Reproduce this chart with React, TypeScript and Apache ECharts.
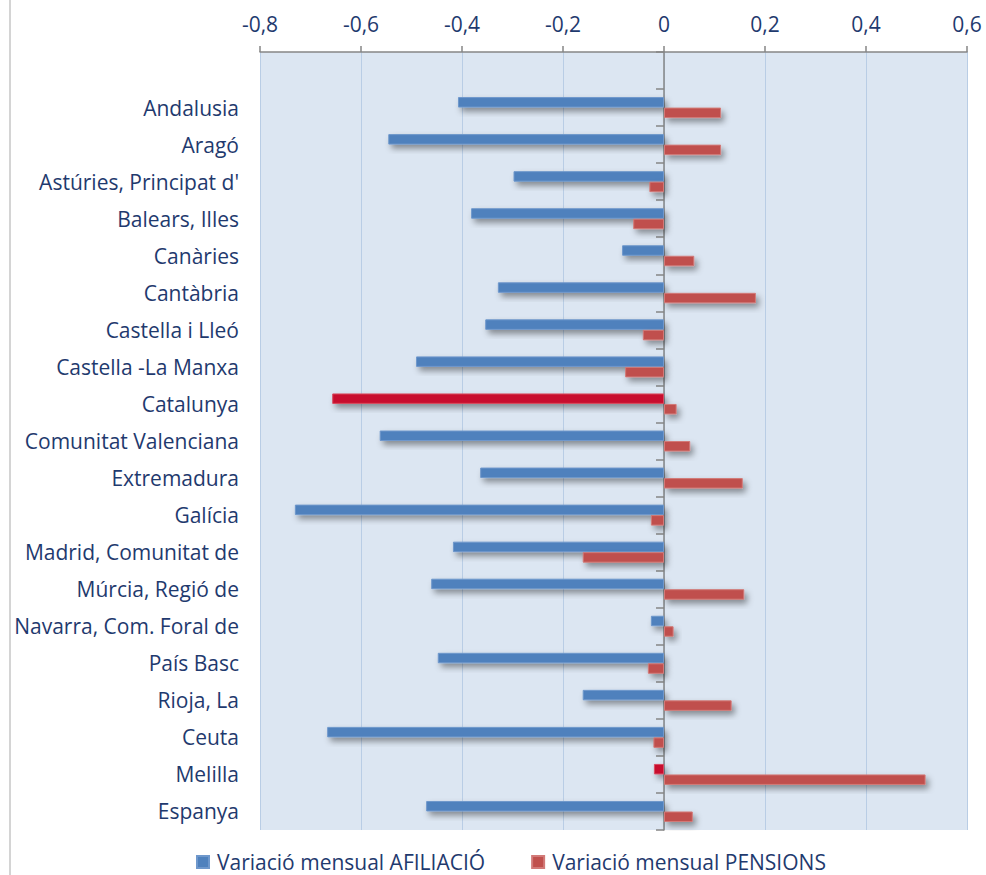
import React, { useEffect, useRef } from "react";
import * as echarts from "echarts";

const categories = [
  "Andalusia",
  "Aragó",
  "Astúries, Principat d'",
  "Balears, Illes",
  "Canàries",
  "Cantàbria",
  "Castella i Lleó",
  "Castella -La Manxa",
  "Catalunya",
  "Comunitat Valenciana",
  "Extremadura",
  "Galícia",
  "Madrid, Comunitat de",
  "Múrcia, Regió de",
  "Navarra, Com. Foral de",
  "País Basc",
  "Rioja, La",
  "Ceuta",
  "Melilla",
  "Espanya",
];

const afiliacio = [
  -0.408, -0.546, -0.298, -0.382, -0.083, -0.329, -0.354, -0.491, -0.657, -0.563,
  -0.364, -0.731, -0.418, -0.461, -0.026, -0.448, -0.161, -0.667, -0.02, -0.471,
];

const pensions = [
  0.113, 0.113, -0.029, -0.061, 0.06, 0.182, -0.042, -0.077, 0.025, 0.052,
  0.156, -0.026, -0.161, 0.159, 0.019, -0.032, 0.134, -0.021, 0.518, 0.057,
];

const highlighted = ["Catalunya", "Melilla"];

const seriesNames = ["Variació mensual AFILIACIÓ", "Variació mensual PENSIONS"];

const BLUE = "#4f81bd";
const RED = "#c0504d";
const HILITE = "#c8102e";
const TEXT = "#1f3a6e";
const FONT = "Open Sans";

export default function App() {
  const ref = useRef<HTMLDivElement>(null);

  useEffect(() => {
    if (!ref.current) return;
    const chart = echarts.init(ref.current, undefined, { renderer: "svg" });

    const cats = [""].concat(categories);
    const shadow = {
      shadowBlur: 6,
      shadowColor: "rgba(0,0,0,0.4)",
      shadowOffsetX: 3,
      shadowOffsetY: 4,
    };

    const afData: any[] = [null].concat(
      afiliacio.map((v, i) =>
        highlighted.includes(categories[i])
          ? { value: v, itemStyle: { color: HILITE, borderColor: "#d84a60" } }
          : v
      ) as any
    );
    const peData: any[] = [null].concat(pensions as any);

    chart.setOption({
      animation: false,
      backgroundColor: "#ffffff",
      textStyle: { fontFamily: FONT },
      graphic: [
        {
          type: "rect",
          shape: { x: 9, y: 0, width: 2, height: 875 },
          style: { fill: "#d4d4d4" },
          silent: true,
        },
      ],
      grid: {
        left: 260,
        right: 19,
        top: 52,
        bottom: 45,
        show: true,
        backgroundColor: "#dce6f2",
        borderWidth: 0,
      },
      legend: {
        left: 196,
        top: 851,
        padding: 0,
        itemWidth: 12,
        itemHeight: 12,
        itemGap: 46,
        icon: "rect",
        data: seriesNames,
        textStyle: {
          fontFamily: FONT,
          fontSize: 21,
          color: TEXT,
          lineHeight: 22,
          padding: [0, 0, 0, 3],
        },
      },
      xAxis: {
        type: "value",
        position: "top",
        min: -0.8,
        max: 0.6,
        interval: 0.2,
        axisLine: { show: true, onZero: false, lineStyle: { color: "#868686", width: 1.5 } },
        axisTick: { show: true, length: 6, lineStyle: { color: "#868686", width: 1.5 } },
        splitLine: { show: true, lineStyle: { color: "#b9cde5", width: 1 } },
        axisLabel: {
          margin: 18,
          fontSize: 21,
          fontFamily: FONT,
          color: TEXT,
          formatter: (v: number) => {
            const r = Math.round(v * 10) / 10;
            return r === 0 ? "0" : String(r).replace(".", ",");
          },
        },
      },
      yAxis: [
        {
          type: "category",
          data: cats,
          inverse: true,
          position: "left",
          axisLine: { show: true, onZero: true, lineStyle: { color: "#868686", width: 1.5 } },
          axisTick: { show: true, length: 8, lineStyle: { color: "#868686", width: 1.5 } },
          axisLabel: { show: false },
          splitLine: { show: false },
        },
        {
          type: "category",
          data: cats,
          inverse: true,
          position: "left",
          axisLine: { show: false, onZero: false },
          axisTick: { show: false },
          splitLine: { show: false },
          axisLabel: {
            margin: 21,
            fontSize: 21,
            fontFamily: FONT,
            color: TEXT,
          },
        },
      ],
      series: [
        {
          name: seriesNames[0],
          type: "bar",
          yAxisIndex: 0,
          data: afData,
          barWidth: 10.5,
          barGap: "0%",
          itemStyle: { color: BLUE, borderColor: "#6f98cc", borderWidth: 1, ...shadow },
        },
        {
          name: seriesNames[1],
          type: "bar",
          yAxisIndex: 0,
          data: peData,
          barWidth: 10.5,
          barGap: "0%",
          itemStyle: { color: RED, borderColor: "#d27a78", borderWidth: 1, ...shadow },
        },
      ],
    });

    return () => chart.dispose();
  }, []);

  return (
    <div
      ref={ref}
      style={{ position: "fixed", left: 0, top: 0, width: 986, height: 875 }}
    />
  );
}
